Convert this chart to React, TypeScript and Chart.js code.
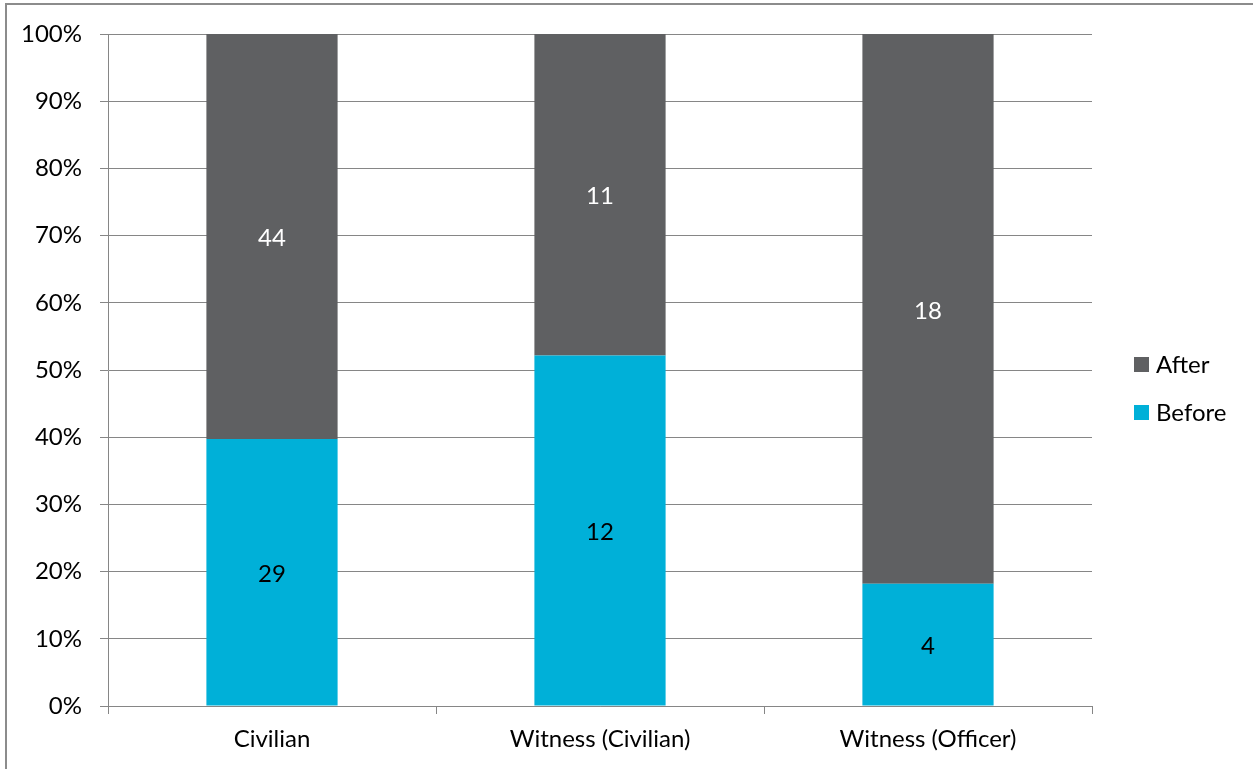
import React, { useEffect, useRef } from "react";
import { Chart, registerables } from "chart.js";

Chart.register(...registerables);

const categories = ["Civilian", "Witness (Civilian)", "Witness (Officer)"];
const beforeCounts = [29, 12, 4];
const afterCounts = [44, 11, 18];
const yTicks = [0, 10, 20, 30, 40, 50, 60, 70, 80, 90, 100];

const FONT = "Lato, 'Open Sans', sans-serif";
const FS = 24;

const pct = (a: number[], b: number[]) => a.map((v, i) => (v / (v + b[i])) * 100);

export default function App() {
  const ref = useRef<HTMLCanvasElement | null>(null);

  useEffect(() => {
    if (!ref.current) return;
    const beforePct = pct(beforeCounts, afterCounts);
    const afterPct = pct(afterCounts, beforeCounts);

    const framePlugin = {
      id: "frame",
      afterDraw(chart: any) {
        const ctx = chart.ctx;
        ctx.save();
        ctx.strokeStyle = "#8c8c8c";
        ctx.lineWidth = 2;
        ctx.strokeRect(6, 4, 1300, 900);
        ctx.restore();
      },
    };

    const labelPlugin = {
      id: "barLabels",
      afterDatasetsDraw(chart: any) {
        const ctx = chart.ctx;
        ctx.save();
        ctx.font = `${FS}px ${FONT}`;
        ctx.textAlign = "center";
        ctx.textBaseline = "middle";
        chart.data.datasets.forEach((ds: any, di: number) => {
          const meta = chart.getDatasetMeta(di);
          const counts = di === 0 ? beforeCounts : afterCounts;
          meta.data.forEach((bar: any, i: number) => {
            const { x, y, base } = bar.getProps(["x", "y", "base"], true);
            ctx.fillStyle = di === 0 ? "#000000" : "#ffffff";
            ctx.fillText(String(counts[i]), x, (y + base) / 2 + 2);
          });
        });
        ctx.restore();
      },
    };

    const legendPlugin = {
      id: "customLegend",
      afterDraw(chart: any) {
        const ctx = chart.ctx;
        ctx.save();
        ctx.font = `${FS}px ${FONT}`;
        ctx.textBaseline = "middle";
        ctx.textAlign = "left";
        const items = [
          { label: "After", color: "#5f6062", y: 364 },
          { label: "Before", color: "#00b0d8", y: 412 },
        ];
        items.forEach((it) => {
          ctx.fillStyle = it.color;
          ctx.fillRect(1134, it.y - 7, 15, 15);
          ctx.fillStyle = "#000000";
          ctx.fillText(it.label, 1156, it.y + 1);
        });
        ctx.restore();
      },
    };

    const chart = new Chart(ref.current, {
      type: "bar",
      data: {
        labels: categories,
        datasets: [
          {
            label: "Before",
            data: beforePct,
            backgroundColor: "#00b0d8",
            barPercentage: 0.4,
            categoryPercentage: 1,
          },
          {
            label: "After",
            data: afterPct,
            backgroundColor: "#5f6062",
            barPercentage: 0.4,
            categoryPercentage: 1,
          },
        ],
      },
      options: {
        animation: false,
        responsive: false,
        maintainAspectRatio: false,
        layout: { padding: { top: 34, right: 161, left: 0, bottom: 0 } },
        plugins: {
          legend: { display: false },
          tooltip: { enabled: false },
        },
        scales: {
          x: {
            stacked: true,
            afterFit(scale: any) {
              scale.height = 63;
            },
            grid: {
              offset: true,
              drawOnChartArea: false,
              drawTicks: true,
              tickLength: 8,
              color: "#868686",
            },
            border: { color: "#868686", width: 1 },
            ticks: {
              color: "#000000",
              font: { family: FONT, size: FS },
              padding: 11,
            },
          },
          y: {
            stacked: true,
            min: 0,
            max: 100,
            afterFit(scale: any) {
              scale.width = 108;
            },
            afterBuildTicks(scale: any) {
              scale.ticks = yTicks.map((v) => ({ value: v }));
            },
            grid: {
              color: "#868686",
              tickLength: 8,
            },
            border: { color: "#868686", width: 1 },
            ticks: {
              color: "#000000",
              font: { family: FONT, size: FS },
              padding: 18,
              callback: (v: any) => `${v}%`,
            },
          },
        },
      },
      plugins: [labelPlugin, legendPlugin, framePlugin],
    });
    return () => chart.destroy();
  }, []);

  return (
    <div style={{ position: "fixed", left: 0, top: 0, width: 1253, height: 769, background: "#ffffff" }}>
      <canvas ref={ref} width={1253} height={769} style={{ display: "block", width: 1253, height: 769 }} />
    </div>
  );
}
